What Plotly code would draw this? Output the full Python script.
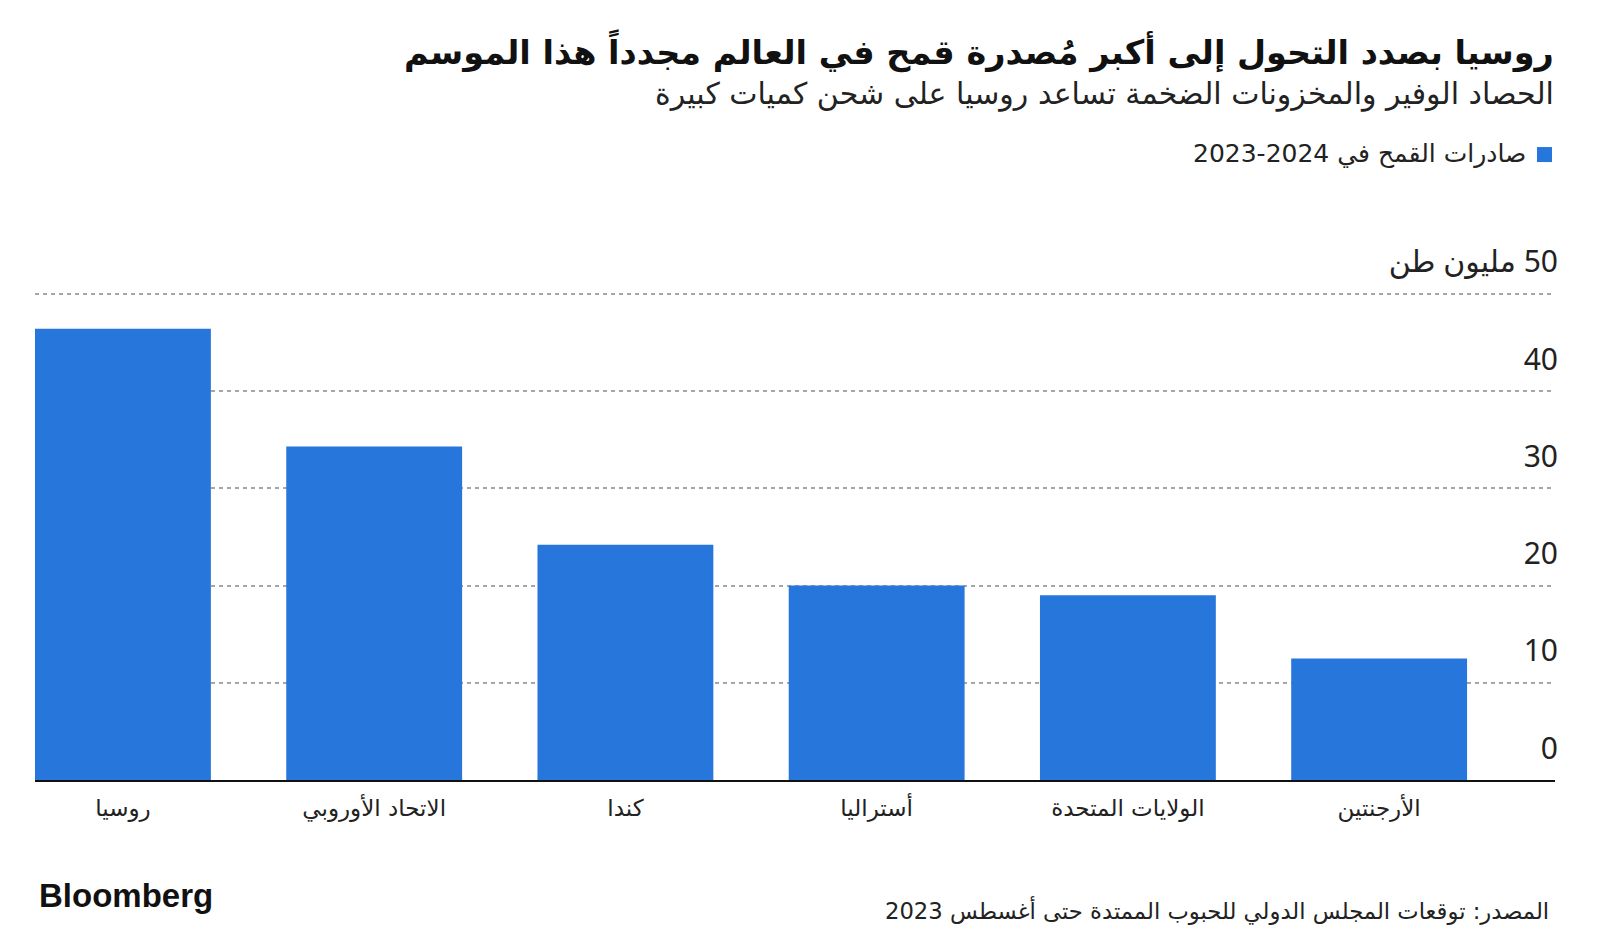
import plotly.graph_objects as go

# Data
countries = ["روسيا", "الاتحاد الأوروبي", "كندا", "أستراليا", "الولايات المتحدة", "الأرجنتين"]
exports = [46.4, 34.3, 24.2, 20.0, 19.0, 12.5]
y_ticks = [0, 10, 20, 30, 40, 50]
y_ticktext = ["0", "10", "20", "30", "40", "مليون طن \u200E50"]

title = "روسيا بصدد التحول إلى أكبر مُصدرة قمح في العالم مجدداً هذا الموسم"
subtitle = "الحصاد الوفير والمخزونات الضخمة تساعد روسيا على شحن كميات كبيرة"
legend_label = "\u200E2023-2024 صادرات القمح في"
source = "المصدر: توقعات المجلس الدولي للحبوب الممتدة حتى أغسطس 2023"

BLUE = "#2676DC"
ARABIC = "DejaVu Sans, Noto Sans, sans-serif"

fig = go.Figure()
fig.add_trace(go.Bar(x=countries, y=exports, marker=dict(color=BLUE, line=dict(width=0)),
                     showlegend=False, hoverinfo="x+y"))

fig.update_layout(
    width=1600, height=951,
    margin=dict(l=35, r=45, t=289, b=171, pad=0),
    paper_bgcolor="white", plot_bgcolor="white",
    bargap=0.3,
    font=dict(family=ARABIC, color="#222"),
    xaxis=dict(
        type="category", range=[-0.35, 5.70],
        showline=True, linecolor="#111", linewidth=2,
        showgrid=False, ticks="", tickfont=dict(size=23, color="#222", family=ARABIC),
        ticklabelstandoff=6, fixedrange=True,
    ),
    yaxis=dict(
        range=[0, 50.5], side="right",
        tickvals=y_ticks, ticktext=y_ticktext,
        ticklabelposition="inside top", ticklabeloverflow="allow",
        ticklabelshift=-11, ticklabelstandoff=-6,
        tickfont=dict(size=30, color="#222", family="Noto Sans, DejaVu Sans, sans-serif"),
        showgrid=True, gridcolor="#a6a6a6", gridwidth=2, griddash="4px,4px",
        zeroline=False, showline=False, ticks="", fixedrange=True,
    ),
)

# paper coordinates relative to the plot area (top 289 px, bottom 780.2 px, left 35, width 1520)
H = 780.2 - 289.0


def py(px):
    return (780.2 - px) / H


def pxx(px):
    return (px - 35) / 1520


fig.add_annotation(text="<b>" + title + "</b>", x=pxx(1556), y=py(51), xref="paper", yref="paper",
                   xanchor="right", yanchor="middle", showarrow=False,
                   font=dict(size=33.5, color="#111", family=ARABIC))
fig.add_annotation(text=subtitle, x=pxx(1556), y=py(94), xref="paper", yref="paper",
                   xanchor="right", yanchor="middle", showarrow=False,
                   font=dict(size=30, color="#222", family=ARABIC))
fig.add_annotation(text=legend_label, x=pxx(1527.5), y=py(154), xref="paper", yref="paper",
                   xanchor="right", yanchor="middle", showarrow=False,
                   font=dict(size=25, color="#222", family=ARABIC))
fig.add_annotation(text="<b>Bloomberg</b>", x=pxx(37), y=py(896), xref="paper", yref="paper",
                   xanchor="left", yanchor="middle", showarrow=False,
                   font=dict(size=33, color="#111", family="Liberation Sans, Arial, sans-serif"))
fig.add_annotation(text=source, x=pxx(1551), y=py(911), xref="paper", yref="paper",
                   xanchor="right", yanchor="middle", showarrow=False,
                   font=dict(size=22.7, color="#222", family=ARABIC))

fig.add_shape(type="rect", xref="paper", yref="paper", x0=pxx(1537), x1=pxx(1552), y0=py(162), y1=py(147),
              fillcolor=BLUE, line=dict(width=0))

fig.write_html("out.html", config={"displayModeBar": False},
               post_script="document.body.style.margin='0';document.body.style.overflow='hidden';")
